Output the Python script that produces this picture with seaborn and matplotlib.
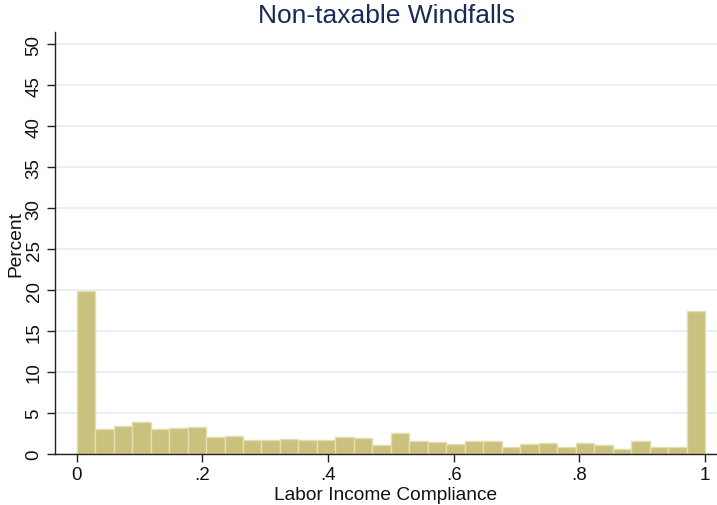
import numpy as np
import pandas as pd
import matplotlib
matplotlib.use("Agg")
import matplotlib.pyplot as plt
import seaborn as sns

# Share of respondents (percent) in each of 34 equal-width compliance bins on [0, 1]
n_bins = 34
percent = [19.9, 3.0, 3.4, 3.9, 3.05, 3.2, 3.3, 2.1, 2.2, 1.7, 1.7, 1.85,
           1.7, 1.75, 2.1, 1.95, 1.15, 2.6, 1.55, 1.45, 1.25, 1.55, 1.55,
           0.85, 1.25, 1.35, 0.9, 1.3, 1.15, 0.6, 1.6, 0.8, 0.8, 17.4]
x_ticks = [0, 0.2, 0.4, 0.6, 0.8, 1.0]
x_tick_labels = ["0", ".2", ".4", ".6", ".8", "1"]
y_ticks = list(range(0, 55, 5))
title = "Non-taxable Windfalls"
x_label = "Labor Income Compliance"
y_label = "Percent"

edges = np.linspace(0, 1, n_bins + 1)
centers = (edges[:-1] + edges[1:]) / 2
df = pd.DataFrame({"compliance": centers, "pct": percent})

sns.set_style("white")
plt.rcParams["font.family"] = ["Liberation Sans", "DejaVu Sans"]

fig = plt.figure(figsize=(7.17, 5.06), dpi=100)
ax = fig.add_axes([55 / 717, 51 / 506, 662 / 717, 422 / 506])

for y in y_ticks:
    ax.axhline(y, color="#e8eef0", lw=1.3, zorder=0)

sns.histplot(data=df, x="compliance", weights="pct", bins=n_bins,
             binrange=(0, 1), ax=ax, stat="count",
             color="#c9c17d", edgecolor="#e3ddb0", linewidth=1.0, alpha=1.0,
             zorder=2)

ax.set_xlim(-0.0345, 1.019)
ax.set_ylim(0, 51.5)
ax.set_xticks(x_ticks)
ax.set_xticklabels(x_tick_labels)
ax.set_yticks(y_ticks)
ax.set_yticklabels([str(v) for v in y_ticks], rotation=90, va="center")
ax.tick_params(axis="both", direction="out", length=5.5, width=1, color="#222222",
               labelsize=13.5, labelcolor="#111111", pad=3.5)
ax.tick_params(axis="both", which="both", bottom=True, left=True)

for side in ["top", "right"]:
    ax.spines[side].set_visible(False)
for side in ["left", "bottom"]:
    ax.spines[side].set_color("#222222")
    ax.spines[side].set_linewidth(1.0)

ax.set_xlabel(x_label, fontsize=13.8, color="#111111", labelpad=1.5)
ax.set_ylabel(y_label, fontsize=13.8, color="#111111", labelpad=1)
ax.set_title(title, fontsize=19, color="#1a2a52", pad=7)

fig.savefig("out.png", dpi=100)
